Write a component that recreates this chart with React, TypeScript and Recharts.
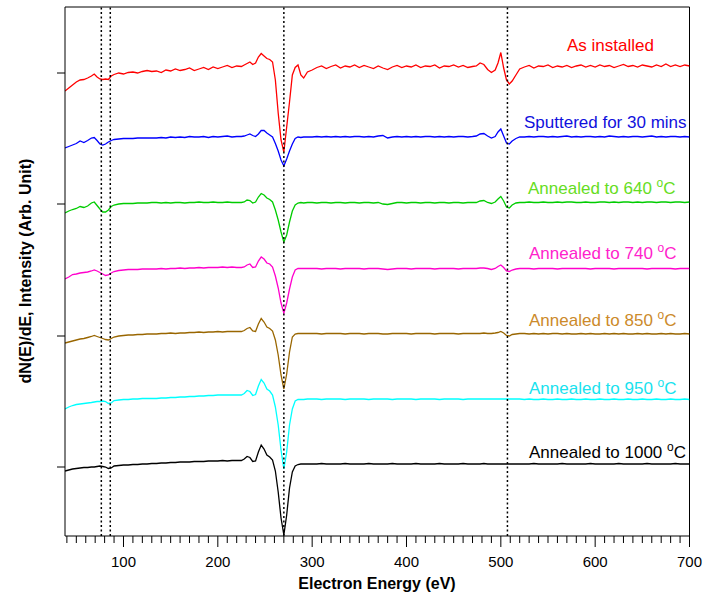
import { LineChart, Line, XAxis, YAxis, ReferenceLine } from 'recharts';

// Electron energy grid (eV), denser around the Auger features
const energy = [
  38, 42, 46, 50, 54, 58, 62, 66, 69, 72, 75, 78, 81, 84, 87, 90, 95, 100, 105, 110, 115, 120, 125, 130,
  135, 140, 145, 150, 155, 160, 165, 170, 175, 180, 185, 190, 195, 200, 205, 210, 215, 220, 225,
  228, 231, 234, 237, 240, 243, 246, 249, 252, 255, 258, 261, 264, 267, 270, 273, 276, 279, 282, 285, 288, 291, 295,
  300, 305, 310, 315, 320, 325, 330, 335, 340, 345, 350, 355, 360, 365, 370, 375, 380, 385, 390, 395, 400, 405, 410, 415, 420, 425, 430, 435, 440, 445, 450, 455, 460, 465, 470,
  474, 478, 482, 486, 490, 494, 497, 500, 503, 506, 509, 512, 516, 520,
  525, 530, 535, 540, 545, 550, 555, 560, 565, 570, 575, 580, 585, 590, 595, 600, 605, 610, 615, 620, 625, 630, 635, 640, 645, 650, 655, 660, 665, 670, 675, 680, 685, 690, 695, 700,
];

// dN(E)/dE, already stacked with a vertical offset per spectrum (arb. units)
const asInstalled = [
  376, 379, 382, 385, 387, 387.5, 389, 391, 393, 390, 388, 387.5, 388, 387.5, 391, 392.5, 394, 393, 394.5, 395, 394, 395.5, 396.5, 395.5,
  396, 394.5, 397, 396, 398, 396.5, 397.5, 399, 396.5, 398, 399.5, 397.5, 400, 398.5, 400, 401.5, 399.5, 401, 400.5,
  402, 403.5, 405, 402.5, 404, 410, 413.5, 411, 408.5, 407.5, 405, 387, 354, 327, 315, 340, 365, 392, 399.5, 402, 392, 389, 395,
  397, 399.5, 401, 398.5, 400.5, 402, 399, 401, 400, 402, 399.5, 401.5, 400, 398.5, 401, 399, 397.5, 400, 401.5, 399.5, 401, 400, 402, 399.5, 401, 400.5, 402, 399, 401, 400.5, 402, 400, 401.5, 399.5, 400.5,
  401, 404, 402.5, 397.5, 394.5, 397, 404, 414.5, 399, 387, 383, 386, 392, 398,
  400, 401.5, 399, 401, 400.5, 402, 399.5, 401, 400, 401.5, 399.5, 401, 402, 400, 401.5, 400, 402, 400.5, 401.5, 399.5, 401, 402.5, 400.5, 401.5, 400, 402, 401, 400, 402, 400.5, 403, 400.5, 402, 400.5, 402, 401,
];

const sputtered = [
  319, 320.5, 322, 323.5, 326, 324.5, 326.5, 329, 329.5, 326.5, 323, 322, 323, 325, 326.5, 327.5, 328, 328.5, 328.5, 328.5, 329, 329, 329, 329,
  329, 329.5, 329, 330, 329.5, 330, 329.5, 330.5, 330, 330, 330.5, 329.5, 330.5, 330, 330.5, 331, 330, 330.5, 330.5,
  331, 332, 333, 331.5, 330.5, 333, 336.5, 336.5, 334, 332, 330, 323.5, 316, 307, 301, 308, 316, 323, 328.5, 330, 329.5, 330, 330,
  330, 330.5, 330, 330.5, 330, 330.5, 330, 330.5, 330, 330.5, 330.5, 330, 330.5, 330, 331, 331.5, 329, 330, 330.5, 330, 330.5, 330, 330.5, 330, 330.5, 330.5, 330, 330.5, 330, 330.5, 330, 330.5, 330.5, 330, 330.5,
  331, 333, 333.5, 331, 329, 330.5, 335, 338, 331, 324, 323, 326, 328.5, 330,
  330, 330.5, 330, 330.5, 330.5, 330, 330.5, 330, 330.5, 331, 330, 330.5, 330, 330.5, 330.5, 330, 330.5, 330, 331, 330.5, 330, 330.5, 330, 330.5, 330.5, 330, 330.5, 331, 330, 330.5, 330, 330.5, 330.5, 330, 330.5, 330,
];

const annealed640 = [
  254, 256, 257.5, 258.5, 260.5, 259.5, 261, 264, 265, 261.5, 258, 255, 255, 257, 260.5, 262, 263, 263.5, 263.5, 263.5, 264, 264, 264, 264.5,
  264.5, 264, 264.5, 264, 264.5, 264.5, 264, 264.5, 264.5, 265, 264.5, 264.5, 265, 264.5, 264.5, 265, 264.5, 264.5, 264.5,
  265, 267, 266.5, 264, 265, 270, 273.5, 272, 269, 267.5, 265, 257, 247, 235, 225, 232, 245, 256, 262, 264, 264.5, 264, 264.5,
  264.5, 264, 264.5, 264.5, 264, 264.5, 264.5, 264, 264.5, 264.5, 264, 264.5, 264.5, 264, 264.5, 263, 262.5, 263.5, 264.5, 264.5, 264, 264.5, 264.5, 264, 264.5, 264.5, 264, 264.5, 264.5, 264, 264.5, 264.5, 264, 264.5, 264.5,
  264.5, 266, 266.5, 264.5, 263.5, 265, 268, 270.5, 266, 260, 259, 262, 264, 264.5,
  264.5, 265, 264.5, 264.5, 265, 264.5, 264.5, 265, 264.5, 265, 265, 264.5, 264.5, 265, 264.5, 264.5, 265, 265, 264.5, 265, 264.5, 265, 265, 264.5, 265, 264.5, 265, 265, 264.5, 265, 265, 264.5, 265, 265, 264.5, 265,
];

const annealed740 = [
  188, 190, 192.5, 193, 194, 194.5, 195, 196, 197, 196, 194.5, 193, 191.5, 192, 194, 195.5, 196.5, 197, 197.5, 197.5, 197.5, 198, 198, 198,
  198, 198.5, 198, 198.5, 198.5, 199, 198.5, 199, 199, 199.5, 199, 199.5, 199.5, 199.5, 200, 199.5, 200, 199.5, 199.5,
  200, 202, 203, 199.5, 200, 206, 210, 208, 204, 203, 200, 191, 179, 164, 154, 164, 178, 190, 197, 198.5, 198.5, 198.5, 198.5,
  198.5, 198.5, 198, 198.5, 198.5, 198.5, 198, 198.5, 198.5, 198.5, 198.5, 198, 198.5, 198.5, 198.5, 198, 197.5, 198, 198.5, 198.5, 198.5, 198, 198.5, 198.5, 198.5, 198.5, 198, 198.5, 198.5, 198.5, 198.5, 198, 198.5, 198.5, 198.5,
  198.5, 199, 199, 198.5, 197.5, 198.5, 200.5, 202, 199.5, 196, 195.5, 197, 198, 198.5,
  198.5, 198.5, 198, 198.5, 198.5, 198.5, 198.5, 198, 198.5, 198.5, 198.5, 198.5, 198.5, 198.5, 198, 198.5, 198.5, 198.5, 198.5, 198, 198.5, 198.5, 198.5, 198.5, 198.5, 198.5, 198, 198.5, 198.5, 198.5, 198.5, 198.5, 198, 198.5, 198.5, 198.5,
];

const annealed850 = [
  124, 125, 126, 127, 128, 128.5, 129.5, 130.5, 131.5, 130.5, 129.5, 128.5, 127.5, 127, 128.5, 130, 131, 131.5, 132, 132, 132.5, 132.5, 133, 133,
  133, 133.5, 133.5, 134, 133.5, 134, 134, 134.5, 134.5, 135, 134.5, 135, 135, 135.5, 135, 135.5, 135.5, 135.5, 135.5,
  136.5, 138.5, 139.5, 136, 135.5, 143, 148.5, 145, 140, 138.5, 136, 127, 112, 92, 78, 93, 115, 130, 133, 133.5, 133.5, 133.5, 133.5,
  133.5, 133.5, 133, 133.5, 133.5, 133.5, 133.5, 133, 133.5, 133.5, 133.5, 133, 133.5, 133.5, 133.5, 133, 133, 133.5, 133.5, 133.5, 133.5, 133, 133.5, 133.5, 133.5, 133.5, 133, 133.5, 133.5, 133.5, 133.5, 133, 133.5, 133.5, 133.5,
  133.5, 133.5, 134, 133.5, 133.5, 134, 134.5, 135.5, 134, 131.5, 131, 132.5, 133, 133.5,
  133.5, 133, 133.5, 133, 133.5, 133, 133.5, 133.5, 133, 133.5, 133, 133, 133.5, 133, 133.5, 133, 133, 133.5, 133, 133.5, 133, 133.5, 133, 133, 133.5, 133, 133.5, 133, 133, 133.5, 133, 133.5, 133, 133, 133.5, 133,
];

const annealed950 = [
  58, 60, 61.5, 62.5, 63, 63.5, 64, 64.5, 65, 65.5, 65.5, 66, 65.5, 63.5, 64, 66.5, 67, 67.5, 67.5, 68, 68, 68.5, 68.5, 68.5,
  68.5, 69, 69, 69.5, 69.5, 70, 70, 70.5, 70.5, 71, 71, 71.5, 71.5, 72, 72, 72, 72, 72, 72,
  73.5, 76.5, 75.5, 71.5, 72.5, 81, 87.5, 84, 78, 76, 72, 60, 42, 17, -2, 15, 42, 58, 66, 67.5, 67.5, 67.5, 68,
  68, 68, 67.5, 68, 68, 68, 68, 67.5, 68, 68, 68, 68, 67.5, 68, 68, 68, 68, 67.5, 68, 68, 68, 68, 67.5, 68, 68, 68, 68, 67.5, 68, 68, 68, 68, 67.5, 68, 68,
  68, 68, 68, 68, 68, 68, 68, 68, 68, 68, 68, 68, 68, 68,
  67.5, 68, 67.5, 67.5, 68, 67.5, 67.5, 68, 67.5, 67.5, 68, 67.5, 67.5, 68, 67.5, 67.5, 68, 67.5, 67.5, 68, 67.5, 67.5, 68, 67.5, 67.5, 68, 67.5, 67.5, 68, 67.5, 67.5, 68, 67.5, 67.5, 68, 67.5,
];

const annealed1000 = [
  -4, -3, -2, -1.5, -1, -0.5, -0.5, 0, 0, 0.5, 1, 0.5, 0, -1.5, -1, 1, 1.5, 2, 2, 2.5, 2.5, 3, 3, 3.5,
  3.5, 4, 4, 4.5, 4.5, 5, 5, 5, 5.5, 5.5, 5.5, 6, 6, 6, 6.5, 6, 6.5, 6.5, 6.5,
  8, 10.5, 9.5, 5.5, 6, 15, 22, 18, 12, 10, 7, -4, -25, -51, -68, -48, -21, -5, 1, 2.5, 3, 3, 3,
  3, 3, 3.5, 3, 3, 3, 3, 3.5, 3, 3, 3, 3, 3.5, 3, 3, 3, 3, 3.5, 3, 3, 3, 3, 3.5, 3, 3, 3, 3, 3.5, 3, 3, 3, 3, 3.5, 3, 3,
  3, 3, 3.5, 3, 3, 3, 3, 3, 3, 3, 3, 3, 3, 3,
  3, 3, 3.5, 3, 3, 3, 3, 3, 3.5, 3, 3, 3, 3, 3, 3.5, 3, 3, 3, 3, 3, 3.5, 3, 3, 3, 3, 3, 3.5, 3, 3, 3, 3, 3, 3.5, 3, 3, 3,
];

const seriesNames = ['As installed', 'Sputtered for 30 mins', 'Annealed to 640', 'Annealed to 740', 'Annealed to 850', 'Annealed to 950', 'Annealed to 1000'];
const lineColors = ['#ff0000', '#0000ff', '#00cc00', '#ff00cc', '#996600', '#00ffff', '#000000'];
const labelColors = ['#ff0000', '#1010dd', '#66dd22', '#ff22cc', '#cc8a2a', '#18e2ee', '#000000'];

// Auger reference energies marked with dotted lines (eV)
const markerEnergies = [76.5, 86, 270, 507];

const majorTicks = [100, 200, 300, 400, 500, 600, 700];
const allTicks = [
  40, 50, 60, 70, 80, 90, 100, 110, 120, 130, 140, 150, 160, 170, 180, 190, 200, 210, 220, 230, 240, 250, 260, 270,
  280, 290, 300, 310, 320, 330, 340, 350, 360, 370, 380, 390, 400, 410, 420, 430, 440, 450, 460, 470, 480, 490, 500,
  510, 520, 530, 540, 550, 560, 570, 580, 590, 600, 610, 620, 630, 640, 650, 660, 670, 680, 690, 700,
];
const yTicks = [0, 131, 263, 394];

const keys = ['s0', 's1', 's2', 's3', 's4', 's5', 's6'];
const spectra = [asInstalled, sputtered, annealed640, annealed740, annealed850, annealed950, annealed1000];

const data = energy.map((e, i) => {
  const row: Record<string, number> = { e };
  spectra.forEach((s, k) => {
    row[keys[k]] = s[i];
  });
  return row;
});

const FONT = '"Liberation Sans", Arial, Helvetica, sans-serif';

const EnergyTick = (props: any) => {
  const { x, y, payload } = props;
  const major = majorTicks.includes(payload.value);
  return (
    <g>
      <line x1={x} x2={x} y1={y} y2={y + (major ? 11 : 7)} stroke="#000" strokeWidth={1} />
      {major && (
        <text x={x} y={y + 31} textAnchor="middle" fontFamily={FONT} fontSize={15} fill="#000">
          {payload.value}
        </text>
      )}
    </g>
  );
};

const NoLabel = () => <g />;

// label baselines/starts for the trace names
const labelX = [567, 524, 528, 529, 529, 529, 529];
const labelY = [51, 128, 194, 259, 326, 394, 458];

const App = () => {
  return (
    <div style={{ position: 'absolute', left: 0, top: 0, width: 704, height: 595, background: '#fff' }}>
      <LineChart
        width={704}
        height={595}
        data={data}
        margin={{ top: 7, right: 14.5, bottom: 58, left: 64 }}
      >
        <XAxis
          dataKey="e"
          type="number"
          domain={[38, 700]}
          ticks={allTicks}
          interval={0}
          height={1}
          tickSize={0}
          tickMargin={0}
          tick={<EnergyTick />}
          axisLine={{ stroke: '#000' }}
          allowDataOverflow
        />
        <YAxis
          type="number"
          domain={[-69, 460]}
          ticks={yTicks}
          width={1}
          tickSize={8}
          tick={<NoLabel />}
          tickLine={{ stroke: '#000' }}
          axisLine={{ stroke: '#000' }}
          allowDataOverflow
        />
        <ReferenceLine y={460} stroke="#000" strokeWidth={1} />
        <ReferenceLine x={700} stroke="#000" strokeWidth={1} />
        {keys.map((k, i) => (
          <Line
            key={k}
            dataKey={k}
            type="linear"
            stroke={lineColors[i]}
            strokeWidth={1.3}
            dot={false}
            isAnimationActive={false}
          />
        ))}
        {markerEnergies.map((m) => (
          <ReferenceLine key={m} x={m} stroke="#000" strokeWidth={1.5} strokeDasharray="2 2.5" />
        ))}
      </LineChart>
      <svg
        width={704}
        height={595}
        style={{ position: 'absolute', left: 0, top: 0, pointerEvents: 'none' }}
      >
        {seriesNames.map((name, i) => (
          <text key={name} x={labelX[i]} y={labelY[i]} fontFamily={FONT} fontSize={17} fill={labelColors[i]}>
            {name}
            {i >= 2 && (
              <>
                <tspan> </tspan>
                <tspan fontSize={12} dy={-7}>o</tspan>
                <tspan dy={7}>C</tspan>
              </>
            )}
          </text>
        ))}
        <text
          x={377}
          y={589}
          textAnchor="middle"
          fontFamily={FONT}
          fontSize={16}
          fontWeight="bold"
          fill="#000"
        >
          Electron Energy (eV)
        </text>
        <text
          transform="translate(31, 271) rotate(-90)"
          textAnchor="middle"
          fontFamily={FONT}
          fontSize={16}
          fontWeight="bold"
          fill="#000"
        >
          dN(E)/dE, Intensity (Arb. Unit)
        </text>
      </svg>
    </div>
  );
};

export default App;
